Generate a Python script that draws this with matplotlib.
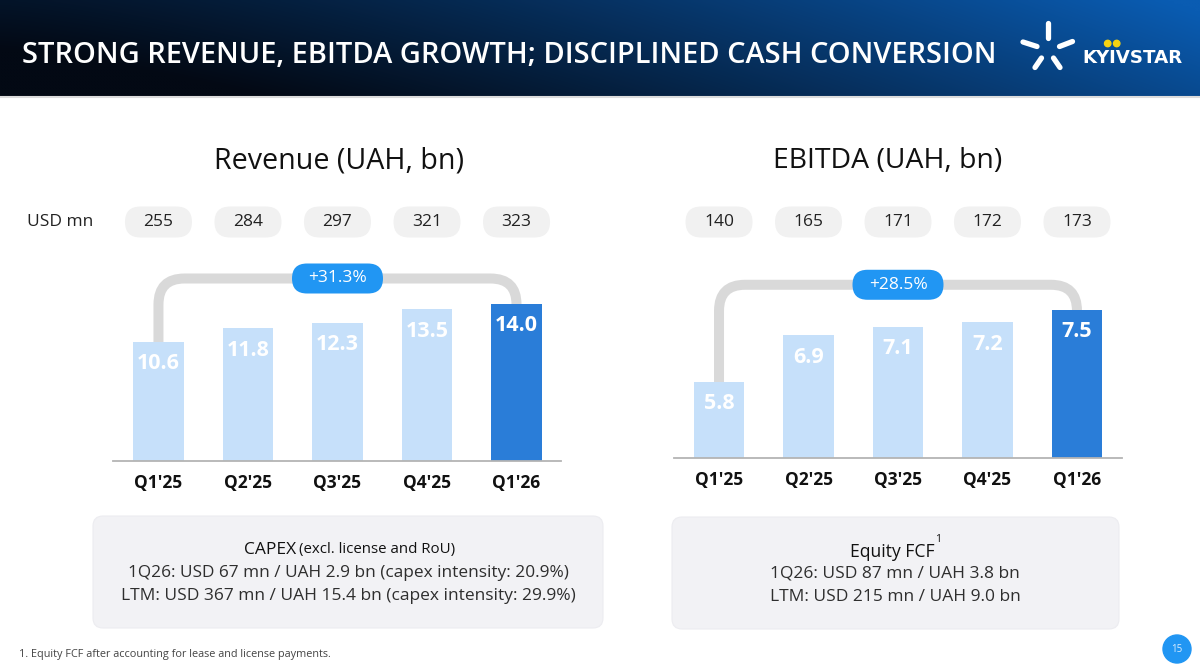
import numpy as np
import matplotlib
matplotlib.use("Agg")
import matplotlib.pyplot as plt
from matplotlib.patches import FancyBboxPatch, Circle, PathPatch
from matplotlib.path import Path

# ---------------- data ----------------
quarters = ["Q1'25", "Q2'25", "Q3'25", "Q4'25", "Q1'26"]
revenue_uah_bn = [10.6, 11.8, 12.3, 13.5, 14.0]
revenue_usd_mn = [255, 284, 297, 321, 323]
revenue_growth = "+31.3%"
ebitda_uah_bn = [5.8, 6.9, 7.1, 7.2, 7.5]
ebitda_usd_mn = [140, 165, 171, 172, 173]
ebitda_growth = "+28.5%"

header_title = "STRONG REVENUE, EBITDA GROWTH; DISCIPLINED CASH CONVERSION"
revenue_title = "Revenue (UAH, bn)"
ebitda_title = "EBITDA (UAH, bn)"
usd_label = "USD mn"
capex_title = "CAPEX"
capex_sub = "(excl. license and RoU)"
capex_lines = ["1Q26: USD 67 mn / UAH 2.9 bn (capex intensity: 20.9%)",
               "LTM: USD 367 mn / UAH 15.4 bn (capex intensity: 29.9%)"]
fcf_title = "Equity FCF"
fcf_lines = ["1Q26: USD 87 mn / UAH 3.8 bn",
             "LTM: USD 215 mn / UAH 9.0 bn"]
footnote = "1. Equity FCF after accounting for lease and license payments."
page_no = "15"

# ---------------- style ----------------
plt.rcParams['font.family'] = ['Open Sans', 'DejaVu Sans']
LIGHT = '#c6e0fa'
DARK = '#2a7dd8'
PILL_BLUE = '#2196f3'
GRAY_PILL = '#f1f1f1'
BRACKET = '#d9d9d9'
BOX = '#f2f2f5'

W, H = 1200, 670
fig = plt.figure(figsize=(12, 6.7), dpi=100)
fig.patch.set_facecolor('white')
bg = fig.add_axes([0, 0, 1, 1])
bg.axis('off')

# header gradient
nx, ny = 400, 40
xx = np.linspace(0, 1, nx)[None, :]
yy = np.linspace(0, 1, ny)[:, None]
t = np.clip(0.9 * xx ** 1.3 + 0.25 * (1 - yy) - 0.12, 0, 1)
c0 = np.array([3, 9, 20]) / 255
c1 = np.array([10, 92, 178]) / 255
img = c0 + (c1 - c0) * t[..., None]
bg.imshow(img, extent=[0, W, 96, 0], aspect='auto', interpolation='bilinear', zorder=0)
bg.set_xlim(0, W)
bg.set_ylim(H, 0)
bg.plot([0, W], [97, 97], color='#dcdcdc', lw=1.5, zorder=1)

renderer = fig.canvas.get_renderer()


def fit(txt, width):
    """scale font size so rendered text has given pixel width"""
    bb = txt.get_window_extent(renderer)
    txt.set_fontsize(txt.get_fontsize() * width / bb.width)
    return txt


fit(bg.text(22, 63, header_title, color='white', fontsize=19, fontweight='semibold',
            va='baseline', ha='left'), 972)

# logo
rays = [((1048, 23), (1048, 38)), ((1023, 42), (1037, 46.5)), ((1059.5, 46.5), (1072.5, 41.5)),
        ((1041.5, 58), (1035, 67.5)), ((1053.5, 58), (1060, 67.5))]
for (a, b) in rays:
    bg.plot([a[0], b[0]], [a[1], b[1]], color='white', lw=3.8, solid_capstyle='round', zorder=2)
fit(bg.text(1082, 63.3, "KYIVSTAR", color='white', fontweight='bold', family='DejaVu Sans',
            fontsize=12.5, va='baseline', ha='left'), 101)
for xd in (1107.7, 1116.7):
    bg.add_patch(Circle((xd, 43.5), 3.2, color='#f5d312', zorder=3))


def px_axes(left, right, top, bottom):
    a = fig.add_axes([left / W, 1 - bottom / H, (right - left) / W, (bottom - top) / H])
    a.patch.set_alpha(0)
    return a


def pill(xc, yc, w, h, color, z=3):
    r = h / 2
    bg.add_patch(FancyBboxPatch((xc - w / 2 + r, yc), w - 2 * r, 0,
                                boxstyle=f"round,pad={r},rounding_size={r}",
                                fc=color, ec='none', zorder=z))


def to_bg(ax, x, y):
    return bg.transData.inverted().transform(ax.transData.transform((x, y)))


def bar_chart(ax, vals, usd, growth, ylim, xlim, pad):
    x = np.arange(len(vals))
    colors = [LIGHT] * (len(vals) - 1) + [DARK]
    ax.bar(x, vals, width=0.56, color=colors, zorder=2)
    ax.set_xlim(*xlim)
    ax.set_ylim(*ylim)
    for s in ('top', 'left', 'right'):
        ax.spines[s].set_visible(False)
    ax.spines['bottom'].set_color('#b4b4b4')
    ax.spines['bottom'].set_linewidth(1.3)
    ax.spines['bottom'].set_zorder(3)
    ax.set_yticks([])
    ax.set_xticks(x, quarters, fontweight='bold', fontsize=12.5, color='#111111')
    ax.tick_params(axis='x', length=0, pad=pad)
    for i, v in enumerate(vals):
        ax.annotate(f"{v:.1f}", (i, v), xytext=(0, -16), textcoords='offset points',
                    ha='center', va='center', color='white', fontsize=15.5,
                    fontweight='bold', zorder=4)
    # USD pills
    for i, u in enumerate(usd):
        xc, _ = to_bg(ax, i, vals[i])
        pill(xc, 222, 67, 31, GRAY_PILL)
        bg.text(xc, 222, str(u), ha='center', va='center', fontsize=12.5, color='#222222', zorder=4)
    # bracket
    x0, y0 = to_bg(ax, 0, vals[0])
    x1, y1 = to_bg(ax, len(vals) - 1, vals[-1])
    ytop = min(to_bg(ax, i, v)[1] for i, v in enumerate(vals)) - 25
    r = 26
    verts = [(x0, y0 + 3), (x0, ytop + r), (x0, ytop), (x0 + r, ytop), (x1 - r, ytop),
             (x1, ytop), (x1, ytop + r), (x1, y1 + 3)]
    codes = [Path.MOVETO, Path.LINETO, Path.CURVE3, Path.CURVE3, Path.LINETO,
             Path.CURVE3, Path.CURVE3, Path.LINETO]
    bg.add_patch(PathPatch(Path(verts, codes), fill=False, ec=BRACKET, lw=7.2,
                           capstyle='butt', joinstyle='round', zorder=2))
    xm = (x0 + x1) / 2
    pill(xm, ytop, 91, 30, PILL_BLUE, z=4)
    bg.text(xm, ytop, growth, ha='center', va='center', color='white', fontsize=12.5, zorder=5)


# revenue chart: baseline at 461 px, 11.25 px per bn
ax1 = px_axes(113, 561, 240, 461)
bar_chart(ax1, revenue_uah_bn, revenue_usd_mn, revenue_growth,
          (0, (461 - 240) / 11.25), (-0.508, 4.497), 9.5)
# ebitda chart: baseline at 458 px, axis starts at 4.0
ax2 = px_axes(674, 1122, 240, 458)
bar_chart(ax2, ebitda_uah_bn, ebitda_usd_mn, ebitda_growth,
          (4.0, 4.0 + (458 - 240) / 42.35), (-0.503, 4.503), 9.0)

fit(bg.text(339, 161, revenue_title, ha='center', va='center', fontsize=20, color='#111111'), 249)
fit(bg.text(888, 161, ebitda_title, ha='center', va='center', fontsize=20, color='#111111'), 230)
fit(bg.text(27, 222, usd_label, ha='left', va='center', fontsize=13, color='#222222'), 66)

# boxes
for (l, tp, r_, b) in [(93, 516, 603, 628), (672, 517, 1119, 629)]:
    rr = 10
    bg.add_patch(FancyBboxPatch((l + rr, tp + rr), r_ - l - 2 * rr, b - tp - 2 * rr,
                                boxstyle=f"round,pad={rr},rounding_size={rr}",
                                fc=BOX, ec='#ececf0', lw=0.8, zorder=1))

fit(bg.text(296, 550, capex_title, ha='right', va='center', fontsize=12.5, color='#111111'), 52)
fit(bg.text(299, 550, capex_sub, ha='left', va='center', fontsize=10, color='#111111'), 156)
fit(bg.text(348, 573, capex_lines[0], ha='center', va='center', fontsize=12, color='#2e2e2e'), 440)
fit(bg.text(348, 596, capex_lines[1], ha='center', va='center', fontsize=12, color='#2e2e2e'), 452)

fit(bg.text(892, 552, fcf_title, ha='center', va='center', fontsize=12.5, color='#111111'), 85)
bg.text(935, 540, "1", ha='left', va='center', fontsize=7.5, color='#111111')
fit(bg.text(895, 574, fcf_lines[0], ha='center', va='center', fontsize=12, color='#2e2e2e'), 250)
fit(bg.text(895, 597, fcf_lines[1], ha='center', va='center', fontsize=12, color='#2e2e2e'), 250)

fit(bg.text(19, 655, footnote, ha='left', va='center', fontsize=7.5, color='#444444'), 314)

bg.add_patch(Circle((1177, 649), 14, color=PILL_BLUE, zorder=3))
bg.text(1177, 649, page_no, ha='center', va='center', fontsize=7, color='#d8ecff', zorder=4)

fig.savefig('out.png', dpi=100)
